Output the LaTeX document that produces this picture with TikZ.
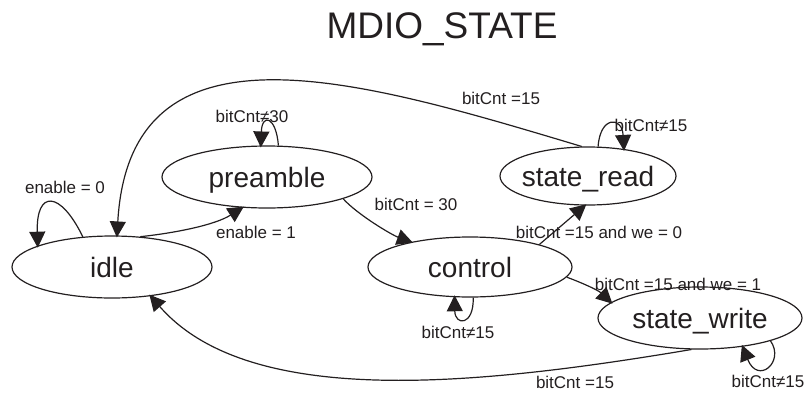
\documentclass[tikz,border=0pt]{standalone}
\usepackage{fontspec}
\setmainfont{Liberation Sans}
\usetikzlibrary{shapes.geometric,arrows.meta}
\definecolor{ink}{HTML}{231F20}
\tikzset{
  state/.style={draw=ink, line width=1.2pt, shape=ellipse, inner sep=0pt,
    text=ink, font=\fontsize{28}{30}\selectfont, text height=21pt, text depth=0pt},
  tr/.style={draw=ink, line width=1.2pt, -{Triangle[length=16pt,width=16pt]}, shorten >=-2pt},
  lbl/.style={text=ink, font=\fontsize{17}{19}\selectfont, inner sep=0pt},
}
% state names are centred without widening the ellipse
\newcommand\statename[1]{\makebox[0pt]{#1}}
\begin{document}
\begin{tikzpicture}[x=1pt,y=-1pt]
\useasboundingbox (0,0) rectangle (806,394);

\node[anchor=base, font=\fontsize{37}{40}\selectfont, text=ink, inner sep=0pt] (title) at (442,38) {MDIO\_STATE};

% states
\node[state, minimum width=200pt, minimum height=62pt] (idle) at (112,267) {\statename{idle}};
\node[state, minimum width=210pt, minimum height=62pt] (preamble) at (267,177) {\statename{preamble}};
\node[state, minimum width=176pt, minimum height=58pt] (read) at (588,176) {\statename{state\_read}};
\node[state, minimum width=204pt, minimum height=60pt] (control) at (470,267) {\statename{control}};
\node[state, minimum width=204pt, minimum height=62pt] (write) at (700,318) {\statename{state\_write}};

% transitions
\draw[tr] (idle.134) .. controls (60,190) and (36,190) .. (idle.164);
\draw[tr] (read.102) .. controls (360,80) and (130,10) .. (idle.81);
\draw[tr] (preamble.70.5) .. controls (276,116) and (262,113) .. (preamble.101);
\draw[tr] (read.71) .. controls (600,116) and (622,116) .. (read.37);
\draw[tr] (preamble.-16) .. controls (358,215) and (392,235) .. (control.157);
\draw[tr] (idle.47) .. controls (175,233) and (215,225) .. (preamble.231.5);
\draw[tr] (control.18.6) -- (read.264);
\draw[tr] (control.-6.5) .. controls (580,282) and (598,290) .. (write.170);
\draw[tr] (write.255.5) .. controls (480,385) and (250,410) .. (idle.-37);
\draw[tr] (write.-18) .. controls (785,362) and (758,385) .. (write.-34);
\draw[tr] (control.-84) .. controls (474,326) and (455,326) .. (control.243);

% transition conditions
\node[lbl] (l_en0) at (65,187) {enable = 0};
\node[lbl] (l_en1) at (256,232) {enable = 1};
\node[lbl] (l_pre) at (252,116) {bitCnt≠30};
\node[lbl] (l_rd15) at (501,98) {bitCnt =15};
\node[lbl] (l_rdloop) at (651,125) {bitCnt≠15};
\node[lbl] (l_30) at (416,204) {bitCnt = 30};
\node[lbl] (l_we0) at (599,232) {bitCnt =15 and we = 0};
\node[lbl] (l_we1) at (678,284) {bitCnt =15 and we = 1};
\node[lbl] (l_ctl) at (458,332) {bitCnt≠15};
\node[lbl] (l_wr15) at (575,382) {bitCnt =15};
\node[lbl] (l_wrloop) at (768,381) {bitCnt≠15};
\end{tikzpicture}
\end{document}
